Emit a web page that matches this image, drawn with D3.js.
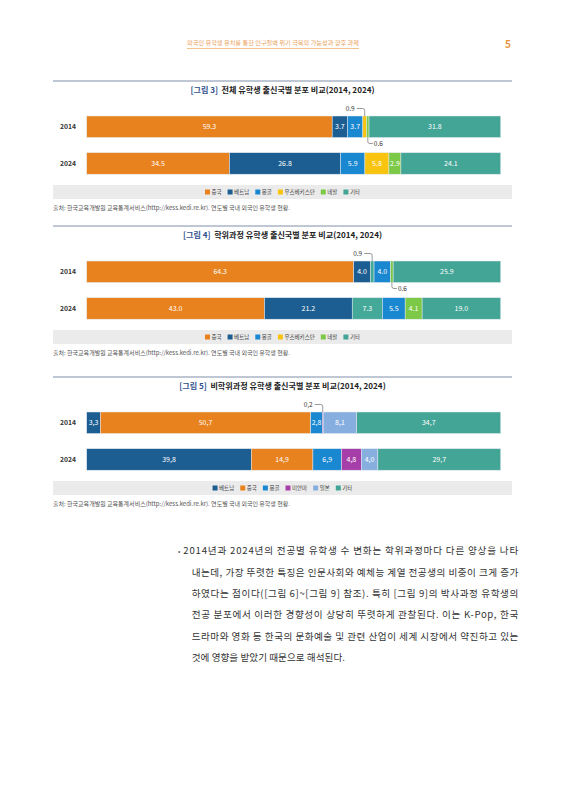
<!DOCTYPE html>
<html>
<head>
<meta charset="utf-8">
<script src="https://cdn.jsdelivr.net/npm/d3@7"></script>
<style>
body { margin: 0; background: #fff; }
svg text { font-family: "Noto Sans CJK KR", "Noto Sans", sans-serif; }
</style>
</head>
<body>
<div id="page"></div>
<script>
// 데이터
var years = ["2014", "2024"];

var fig3Keys = ["중국", "베트남", "몽골", "우즈베키스탄", "네팔", "기타"];
var fig3_2014 = [59.3, 3.7, 3.7, 0.9, 0.6, 31.8];
var fig3_2024 = [34.5, 26.8, 5.9, 5.8, 2.9, 24.1];
var fig3Legend = ["중국", "베트남", "몽골", "우즈베키스탄", "네팔", "기타"];

// 그림 4: 세 번째 막대 조각은 원본에서 청록색으로 그려져 있음
var fig4Keys = ["중국", "베트남", "우즈베키스탄", "몽골", "네팔", "기타"];
var fig4_2014 = [64.3, 4.0, 0.9, 4.0, 0.6, 25.9];
var fig4_2024 = [43.0, 21.2, 7.3, 5.5, 4.1, 19.0];
var fig4Legend = ["중국", "베트남", "몽골", "우즈베키스탄", "네팔", "기타"];

var fig5Keys = ["베트남", "중국", "몽골", "미얀마", "일본", "기타"];
var fig5_2014 = [3.3, 50.7, 2.8, 0.2, 8.1, 34.7];
var fig5_2024 = [39.8, 14.9, 6.9, 4.8, 4.0, 29.7];
var fig5Legend = ["베트남", "중국", "몽골", "미얀마", "일본", "기타"];

var headerText = "외국인 유학생 유치를 통한 인구절벽 위기 극복의 가능성과 향후 과제";
var pageNumber = "5";
var sourceText = "출처: 한국교육개발원 교육통계서비스(http://kess.kedi.re.kr). 연도별 국내 외국인 유학생 현황.";
var bodyLines = [
    "2014년과 2024년의 전공별 유학생 수 변화는 학위과정마다 다른 양상을 나타",
    "내는데, 가장 뚜렷한 특징은 인문사회와 예체능 계열 전공생의 비중이 크게 증가",
    "하였다는 점이다([그림 6]~[그림 9] 참조). 특히 [그림 9]의 박사과정 유학생의",
    "전공 분포에서 이러한 경향성이 상당히 뚜렷하게 관찰된다. 이는 K-Pop, 한국",
    "드라마와 영화 등 한국의 문화예술 및 관련 산업이 세계 시장에서 약진하고 있는",
    "것에 영향을 받았기 때문으로 해석된다."
];

// 색상
var colors = {
    "중국": "#e8821e",
    "베트남": "#1c5e91",
    "몽골": "#1a87d1",
    "우즈베키스탄": "#f8c40f",
    "네팔": "#7cc947",
    "기타": "#42a596",
    "미얀마": "#a63ea9",
    "일본": "#86afe0"
};

var charts = [
    { top: 81, num: "[그림 3]", title: "전체 유학생 출신국별 분포 비교(2014, 2024)",
      keys: fig3Keys, rows: [fig3_2014, fig3_2024], legend: fig3Legend,
      segColors: fig3Keys.map(k => colors[k]), comma: false },
    { top: 226, num: "[그림 4]", title: "학위과정 유학생 출신국별 분포 비교(2014, 2024)",
      keys: fig4Keys, rows: [fig4_2014, fig4_2024], legend: fig4Legend,
      segColors: ["#e8821e", "#1c5e91", "#45a99a", "#1a87d1", "#7cc947", "#42a596"], comma: false },
    { top: 377, num: "[그림 5]", title: "비학위과정 유학생 출신국별 분포 비교(2014, 2024)",
      keys: fig5Keys, rows: [fig5_2014, fig5_2024], legend: fig5Legend,
      segColors: fig5Keys.map(k => colors[k]), comma: true }
];

var width = 566, height = 800;
var left = 53, right = 512;
var svg = d3.select("#page").append("svg")
    .attr("width", width)
    .attr("height", height);

svg.append("rect").attr("width", width).attr("height", height).attr("fill", "#fff");

// 머리말
svg.append("text")
    .attr("x", 187).attr("y", 45)
    .attr("textLength", 172).attr("lengthAdjust", "spacingAndGlyphs")
    .attr("font-size", 5.8).attr("fill", "#eba15a")
    .text(headerText);
svg.append("line")
    .attr("x1", 187).attr("x2", 359).attr("y1", 48.5).attr("y2", 48.5)
    .attr("stroke", "#f0b272").attr("stroke-width", 0.8);
svg.append("text")
    .attr("x", 511).attr("y", 47.5).attr("text-anchor", "end")
    .attr("font-size", 10).attr("font-weight", "bold").attr("fill", "#e9933c")
    .text(pageNumber);

charts.forEach(drawChart);
drawBody();

function drawChart(c) {
    var g = svg.append("g");
    var top = c.top;

    g.append("line")
        .attr("x1", left).attr("x2", right).attr("y1", top).attr("y2", top)
        .attr("stroke", "#a8b5c4").attr("stroke-width", 1.6);

    var title = g.append("text")
        .attr("x", (left + right) / 2).attr("y", top + 11.8)
        .attr("text-anchor", "middle")
        .attr("font-size", 8.1).attr("font-weight", "bold");
    title.append("tspan").attr("fill", "#2f4f8c").text(c.num);
    title.append("tspan").attr("fill", "#222").attr("dx", 3.5).text(c.title);

    var x = d3.scaleLinear().domain([0, 1]).range([86.7, 500.7]);
    var y = d3.scaleBand().domain(years)
        .range([top + 35, top + 93.2]).paddingInner(0.414).paddingOuter(0);

    var table = c.rows.map((vals, i) => {
        var o = { year: years[i] };
        vals.forEach((v, j) => o[j] = v);
        return o;
    });
    var idx = d3.range(c.keys.length);
    var stack = d3.stack().keys(idx).offset(d3.stackOffsetExpand);
    var series = stack(table);

    var fmt = d3.format(".1f");
    var label = v => c.comma ? fmt(v).replace(".", ",") : fmt(v);

    series.forEach((s, j) => {
        g.append("g").selectAll("rect")
            .data(s)
            .join("rect")
            .attr("x", d => x(d[0]))
            .attr("y", d => y(d.data.year))
            .attr("width", d => Math.max(0, x(d[1]) - x(d[0])))
            .attr("height", y.bandwidth())
            .attr("fill", c.segColors[j])
            .attr("stroke", "#e3e9ef")
            .attr("stroke-width", 0.5);
    });

    // 막대 안 라벨
    series.forEach((s, j) => {
        g.append("g").selectAll("text")
            .data(s.filter(d => d.data[j] >= 1))
            .join("text")
            .attr("x", d => (x(d[0]) + x(d[1])) / 2)
            .attr("y", d => y(d.data.year) + y.bandwidth() / 2 + 2.5)
            .attr("text-anchor", "middle")
            .attr("font-size", 7).attr("fill", "#fff")
            .text(d => label(d.data[j]));
    });

    // 작은 값은 지시선으로 표시 (첫째 위, 둘째 아래)
    table.forEach((row, i) => {
        var small = idx.filter(j => row[j] < 1);
        small.forEach((j, k) => {
            var d = series[j][i];
            var cx = (x(d[0]) + x(d[1])) / 2;
            var by = y(row.year);
            if (k === 0) {
                var ty = by - 7.5;
                g.append("text")
                    .attr("x", cx - 10).attr("y", ty + 2.3)
                    .attr("text-anchor", "end")
                    .attr("font-size", 6.5).attr("fill", "#333")
                    .text(label(row[j]));
                g.append("path")
                    .attr("d", `M${cx - 8},${ty} L${cx - 2},${ty} Q${cx},${ty} ${cx},${ty + 2} L${cx},${by}`)
                    .attr("fill", "none").attr("stroke", "#555").attr("stroke-width", 0.6);
            } else {
                var bb = by + y.bandwidth();
                var ty2 = bb + 6;
                g.append("path")
                    .attr("d", `M${cx},${bb} L${cx},${ty2 - 2} Q${cx},${ty2} ${cx + 2},${ty2} L${cx + 5},${ty2}`)
                    .attr("fill", "none").attr("stroke", "#555").attr("stroke-width", 0.6);
                g.append("text")
                    .attr("x", cx + 6).attr("y", ty2 + 2.3)
                    .attr("font-size", 6.5).attr("fill", "#333")
                    .text(label(row[j]));
            }
        });
    });

    // 연도 라벨
    g.append("g").selectAll("text")
        .data(years)
        .join("text")
        .attr("x", 60)
        .attr("y", d => y(d) + y.bandwidth() / 2 + 2.4)
        .attr("font-size", 6.8).attr("font-weight", "bold").attr("fill", "#333")
        .text(d => d);

    // 범례
    g.append("rect")
        .attr("x", left).attr("y", top + 104)
        .attr("width", right - left).attr("height", 14)
        .attr("fill", "#ebebeb");
    var lg = g.append("g");
    var cursor = 0;
    c.legend.forEach(name => {
        var item = lg.append("g").attr("transform", `translate(${cursor},0)`);
        item.append("rect")
            .attr("x", 0).attr("y", -2.5).attr("width", 5).attr("height", 5)
            .attr("fill", colors[name]);
        var t = item.append("text")
            .attr("x", 6.5).attr("y", 2)
            .attr("font-size", 5.5).attr("fill", "#444")
            .text(name);
        cursor += 6.5 + t.node().getComputedTextLength() + 6;
    });
    var lw = cursor - 6;
    lg.attr("transform", `translate(${(left + right) / 2 - lw / 2},${top + 111})`);

    g.append("text")
        .attr("x", left).attr("y", top + 129)
        .attr("font-size", 6).attr("fill", "#555")
        .text(sourceText);
}

function drawBody() {
    var g = svg.append("g");
    g.append("text")
        .attr("x", 179.3).attr("y", 553.8)
        .attr("text-anchor", "middle")
        .attr("font-size", 7).attr("fill", "#666")
        .text("•");
    bodyLines.forEach((line, i) => {
        var x0 = i === 0 ? 183.3 : 191.7;
        var t = g.append("text")
            .attr("x", x0).attr("y", 554.4 + i * 21.3)
            .attr("font-size", 9.6).attr("fill", "#333")
            .text(line);
        var w = i === bodyLines.length - 1 ? 345 - x0 : 518.3 - x0;
        t.attr("textLength", w).attr("lengthAdjust", "spacing");
    });
}
</script>
</body>
</html>
